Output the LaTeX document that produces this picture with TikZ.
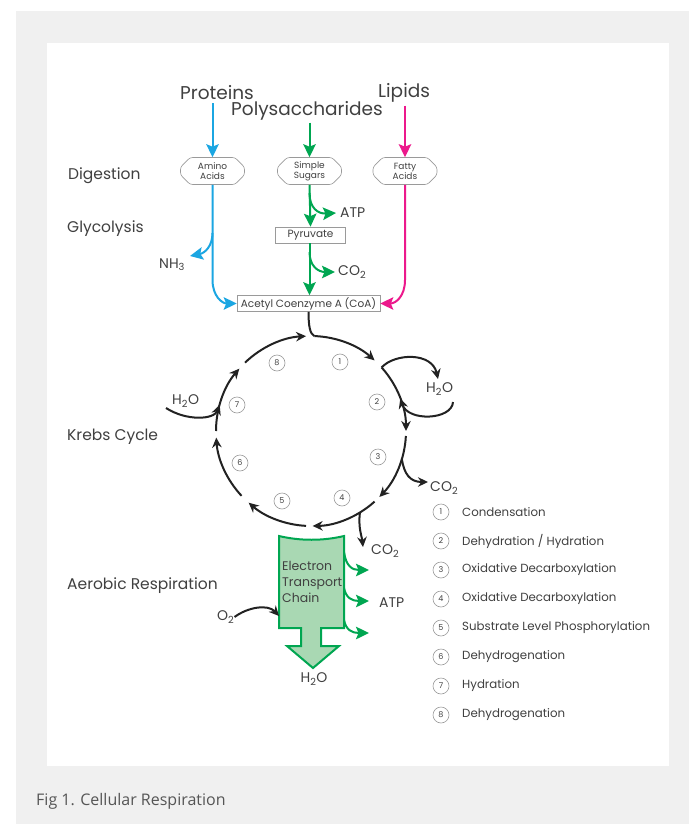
\documentclass[tikz,border=0pt]{standalone}
\usepackage{fontspec}
\setmainfont{Poppins}
\newfontfamily\capfont{Open Sans}
\usetikzlibrary{arrows.meta,shapes.misc,calc}
\definecolor{txt}{HTML}{404040}
\definecolor{cblue}{HTML}{1BA6E2}
\definecolor{cgreen}{HTML}{00A651}
\definecolor{cpink}{HTML}{EC198C}
\definecolor{etcfill}{HTML}{A9D8B3}
\definecolor{bgg}{HTML}{F0F0F0}
\definecolor{boxg}{HTML}{9A9A9A}
\definecolor{capc}{HTML}{555555}
\definecolor{cyck}{HTML}{222222}
\begin{document}
\begin{tikzpicture}[x=1pt,y=1pt,
  lbl/.style={text=txt,inner sep=0pt,font=\fontsize{14}{16}\selectfont},
  stage/.style={lbl,anchor=west,font=\fontsize{15.5}{17}\selectfont},
  toplbl/.style={text=txt,inner sep=0pt,font=\fontsize{18.5}{20}\selectfont},
  src/.style={chamfered rectangle,chamfered rectangle xsep=6pt,draw=boxg,rounded corners=2.5pt,
    minimum width=64pt,minimum height=27pt,inner sep=0pt,align=center,
    font=\fontsize{9}{10}\selectfont,text=txt,line width=0.6pt},
  rbox/.style={draw=boxg,fill=white,inner sep=0pt,minimum height=16pt,
    font=\fontsize{10.5}{11}\selectfont,text=txt,line width=0.6pt},
  numc/.style={circle,draw=boxg,line width=0.6pt,minimum size=16pt,inner sep=0pt,
    font=\fontsize{8}{8}\selectfont,text=txt},
  legt/.style={text=txt,inner sep=0pt,anchor=west,font=\fontsize{11.8}{13}\selectfont},
  cycn/.style={line width=2pt,cyck},
  cyc/.style={cycn,-{Stealth[length=10pt,width=9.5pt]}},
  bigtip/.style={-{Stealth[length=13pt,width=12.5pt,inset=2.5pt]}},
  barr/.style={line width=2pt,cblue,bigtip},
  garr/.style={line width=2pt,cgreen,bigtip},
  parr/.style={line width=2pt,cpink,bigtip},
  etcs/.style={fill=etcfill,draw=cgreen,line width=2pt,line join=miter}
]
\useasboundingbox (0,0) rectangle (689,-824);
\fill[white] (0,0) rectangle (689,-824);
\fill[bgg] (16,-11) rectangle (689,-824);
\fill[white] (47,-43) rectangle (669,-766);

% top labels
\node[toplbl,anchor=west] (prot) at (180,-93) {Proteins};
\node[toplbl,anchor=west] (lip) at (378,-93) {Lipids};
\node[toplbl] (poly) at (307,-111) {Polysaccharides};

% source boxes
\node[src] (amino) at (212.5,-171) {Amino\\Acids};
\node[src] (sugars) at (309.5,-171) {Simple\\Sugars};
\node[src] (fatty) at (405,-171) {Fatty\\Acids};

\draw[barr] ([yshift=-3pt]prot.south -| amino.north) -- (amino.north);
\draw[garr] ([yshift=-2pt]poly.south -| sugars.north) -- (sugars.north);
\draw[parr] ([yshift=-3pt]lip.south -| fatty.north) -- (fatty.north);

% stage labels
\node[stage] (dig) at (68,-176) {Digestion};
\node[stage] (gly) at (67,-229) {Glycolysis};
\node[stage] (krebs) at (67,-437) {Krebs Cycle};
\node[stage] (aer) at (67,-586) {Aerobic Respiration};

% boxes
\node[rbox,minimum width=70pt] (pyr) at (310.5,-235) {Pyruvate};
\node[rbox,minimum width=143pt] (coa) at (308.5,-303.5) {Acetyl Coenzyme A (CoA)};

% labels
\node[lbl,anchor=west] (nh3) at (159,-265) {NH\textsubscript{3}};
\node[lbl,anchor=west] (atp1) at (340,-213) {ATP};
\node[lbl,anchor=west] (co2a) at (338,-272) {CO\textsubscript{2}};

% blue
\draw[barr] (amino.south) -- (212.5,-280) .. controls (212.5,-296) and (222,-303.5) .. (coa.west);
\coordinate (nh3tip) at (190,-256);
\draw[barr] (212.5,-233) .. controls (212.5,-246) and (205,-253) .. (nh3tip);
% green
\draw[garr] (sugars.south) -- (pyr.north);
\draw[garr] (309.5,-193) .. controls (309.5,-208) and (318,-214) .. ([xshift=-4pt]atp1.west);
\draw[garr] (pyr.south -| sugars.south) -- (coa.north -| sugars.south);
\draw[garr] (309.5,-252) .. controls (309.5,-266) and (318,-272) .. ([xshift=-3pt]co2a.west);
% pink
\draw[parr] (fatty.south) -- (405,-280) .. controls (405,-296) and (396,-303.5) .. (coa.east);

% Krebs cycle
\coordinate (c) at (311,-431);
\draw[cycn] (coa.south) .. controls (308.5,-326) and (310,-334) .. ($(c)+(88:95)$);
\draw[cyc] ($(c)+(88:95)$) arc (88:48:95);
\draw[cyc] ($(c)+(42:95)$) arc (42:0:95);
\draw[cyc] ($(c)+(-3:95)$) arc (-3:-44:95);
\draw[cyc] ($(c)+(-48:95)$) arc (-48:-89:95);
\draw[cyc] ($(c)+(-93:95)$) arc (-93:-131:95);
\draw[cyc] ($(c)+(-137:95)$) arc (-137:-176:95);
\draw[cyc] ($(c)+(180:95)$) arc (180:139:95);
\draw[cyc] ($(c)+(134:95)$) arc (134:93:95);

% side branches
\node[lbl,anchor=west] (h2oa) at (426,-389) {H\textsubscript{2}O};
\draw[cyc] ($(c)+(42:95)$) .. controls (395,-353) and (432,-352) .. (438,-379);
\coordinate (h2oin) at (453,-402);
\draw[cyc] (h2oin) .. controls (452,-420) and (408,-422) .. ($(c)+(20:95)$);
\node[lbl,anchor=west] (h2ob) at (172,-401) {H\textsubscript{2}O};
\coordinate (h2oin2) at (166,-408);
\draw[cyc] (h2oin2) .. controls (186,-421) and (214,-420) .. ($(c)+(164:95)$);
\node[lbl,anchor=west] (co2b) at (430,-488) {CO\textsubscript{2}};
\draw[cyc] ($(c)+(-17:95)$) .. controls (404,-474) and (410,-482) .. (428,-482);
\node[lbl,anchor=west] (co2c) at (371,-551) {CO\textsubscript{2}};
\draw[cyc] ($(c)+(-59:95)$) .. controls (358,-528) and (362,-537) .. (363,-547);

% step numbers
\node[numc] (s1) at (340,-362) {1};
\node[numc] (s2) at (377,-402) {2};
\node[numc] (s3) at (378,-457) {3};
\node[numc] (s4) at (342,-498) {4};
\node[numc] (s5) at (282,-501) {5};
\node[numc] (s6) at (240,-463) {6};
\node[numc] (s7) at (237,-405) {7};
\node[numc] (s8) at (277,-363) {8};

% electron transport chain
\filldraw[etcs] (279,-536) .. controls (300,-541) and (323,-541) .. (344,-536) -- (344,-628)
  -- (321,-628) -- (321,-646) -- (339,-646) -- (313,-668) -- (287,-646) -- (301,-646)
  -- (301,-628) -- (279,-628) -- cycle;
\node[anchor=north west,align=left,inner sep=0pt,text=txt,font=\fontsize{12.5}{16}\selectfont] (etc) at (282,-561) {Electron\\Transport\\Chain};
\draw[garr] (344,-552) .. controls (346,-566) and (352,-570) .. (369,-570);
\draw[garr] (344,-588) .. controls (346,-598) and (352,-601) .. (369,-601);
\draw[garr] (344,-620) .. controls (346,-630) and (352,-633) .. (369,-633);
\node[lbl,anchor=west] (atp2) at (379,-603) {ATP};
\node[lbl,anchor=west] (o2) at (217,-617) {O\textsubscript{2}};
\draw[cyc] (o2.east) .. controls (248,-607) and (268,-604) .. (279,-616);
\node[lbl] (h2oc) at (314,-679) {H\textsubscript{2}O};

% legend
\foreach \i/\t in {1/Condensation,2/{Dehydration / Hydration},3/Oxidative Decarboxylation,
  4/Oxidative Decarboxylation,5/Substrate Level Phosphorylation,6/Dehydrogenation,
  7/Hydration,8/Dehydrogenation}{
  \pgfmathsetmacro\yy{-512-29*(\i-1)}
  \node[numc] (l\i) at (441,\yy) {\i};
  \node[legt] (lt\i) at (462,\yy) {\t};
}

\node[anchor=west,inner sep=0pt,text=capc,font=\capfont\fontsize{16}{18}\selectfont] (cap) at (36,-801) {Fig 1. Cellular Respiration};
\end{tikzpicture}
\end{document}
